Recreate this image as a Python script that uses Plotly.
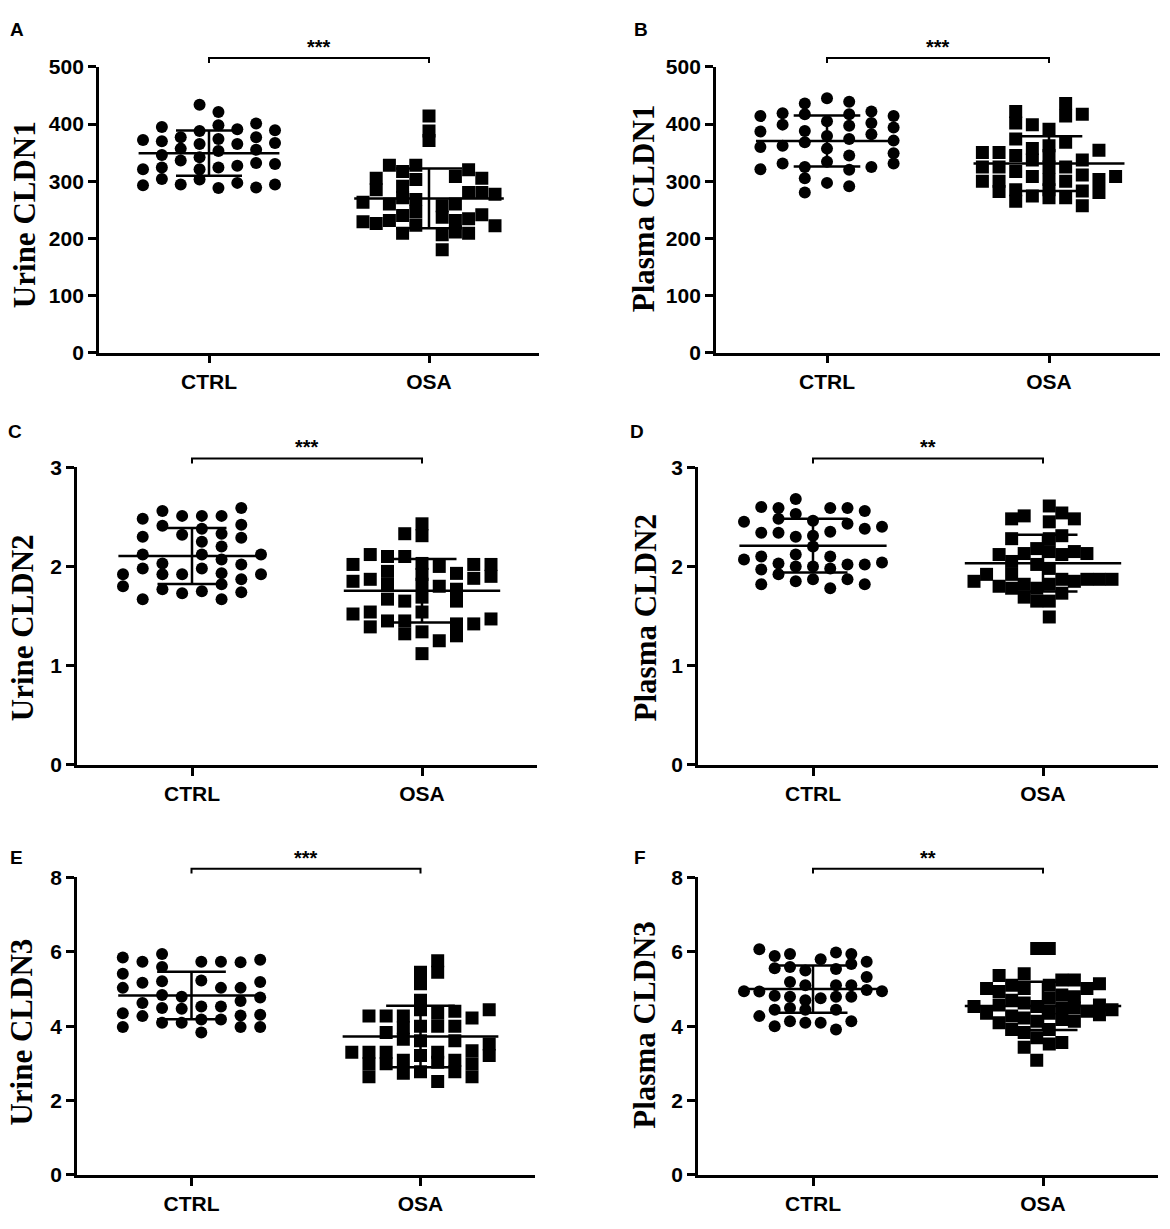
import numpy as np
import plotly.graph_objects as go
from plotly.subplots import make_subplots

W, H = 1170, 1229

groups = ['CTRL', 'OSA']

# values, one inner list per stacked column (left to right)
urine_cldn1_ctrl = [[372, 321, 293], [395, 370, 346, 324, 304], [377, 357, 336, 294],
                    [434, 388, 365, 342, 321, 303], [421, 398, 374, 353, 324, 288],
                    [391, 365, 327, 297], [401, 377, 355, 332, 289], [389, 367, 330, 294]]
urine_cldn1_osa = [[263, 229], [305, 285, 226], [328, 260, 231], [317, 291, 271, 240, 209],
                   [328, 303, 268, 246, 223], [414, 388, 371], [257, 237, 206, 180],
                   [308, 260, 231, 211], [320, 280, 234, 209], [305, 280, 241], [277, 222]]

plasma_cldn1_ctrl = [[414, 387, 360, 321], [419, 399, 362, 331], [436, 417, 388, 368, 325, 305, 280],
                     [445, 405, 379, 357, 334, 297], [439, 417, 397, 374, 345, 320, 291],
                     [422, 402, 382, 325], [414, 394, 371, 349, 331]]
plasma_cldn1_osa = [[350, 325, 300], [350, 325, 300, 282], [422, 402, 374, 345, 317, 285, 265],
                    [399, 357, 337, 308, 274], [391, 362, 345, 325, 303, 285, 271],
                    [436, 414, 368, 325, 300, 271], [417, 337, 311, 283, 257], [354, 303, 280], [308]]

urine_cldn2_ctrl = [[1.92, 1.80], [2.48, 2.30, 2.12, 1.98, 1.67], [2.56, 2.41, 2.03, 1.92, 1.77],
                    [2.51, 2.32, 1.92, 1.73], [2.51, 2.38, 2.25, 2.12, 1.98, 1.75],
                    [2.51, 2.33, 2.20, 2.07, 1.93, 1.82, 1.67], [2.59, 2.42, 2.29, 2.02, 1.87, 1.74],
                    [2.12, 1.92]]
urine_cldn2_osa = [[2.02, 1.85, 1.52], [2.12, 1.87, 1.54, 1.39], [2.10, 1.95, 1.82, 1.67, 1.45],
                   [2.33, 2.10, 1.65, 1.45, 1.32], [2.43, 2.31, 2.03, 1.92, 1.82, 1.69, 1.54, 1.34, 1.12],
                   [2.00, 1.80, 1.25], [1.93, 1.77, 1.65, 1.42, 1.30], [2.02, 1.88, 1.42],
                   [2.02, 1.90, 1.47]]

plasma_cldn2_ctrl = [[2.45, 2.07], [2.60, 2.34, 2.10, 1.97, 1.82], [2.59, 2.48, 2.34, 2.03, 1.92],
                     [2.68, 2.53, 2.30, 2.12, 2.00, 1.85], [2.46, 2.31, 2.20, 2.00, 1.87],
                     [2.59, 2.35, 2.10, 1.98, 1.78], [2.59, 2.43, 2.02, 1.87], [2.56, 2.38, 2.02, 1.82],
                     [2.40, 2.04]]
plasma_cldn2_osa = [[1.85], [1.92], [2.12, 1.80], [2.48, 2.28, 2.05, 1.92, 1.78], [2.51, 2.13, 1.82, 1.69],
                    [2.18, 2.02, 1.78, 1.65], [2.61, 2.45, 2.28, 2.15, 1.98, 1.82, 1.65, 1.49],
                    [2.54, 2.31, 2.12, 1.87, 1.73], [2.48, 2.15, 1.85], [2.13, 1.87], [1.87], [1.87]]

urine_cldn3_ctrl = [[5.85, 5.41, 5.03, 4.35, 3.98], [5.73, 5.17, 4.62, 4.27],
                    [5.94, 5.59, 5.21, 4.84, 4.49, 4.09], [4.79, 4.47, 4.09], [5.73, 5.23, 4.53, 4.18, 3.83],
                    [5.73, 5.03, 4.53, 4.18], [5.72, 5.03, 4.68, 4.29, 3.98], [5.79, 5.19, 4.77, 4.31, 3.98]]
urine_cldn3_osa = [[3.30], [4.27, 3.30, 2.99, 2.64], [4.27, 3.83, 3.30, 2.99], [4.27, 3.96, 3.65, 3.08, 2.73],
                   [5.45, 5.14, 4.70, 4.44, 4.00, 3.61, 3.21, 2.77], [5.76, 5.45, 4.35, 4.00, 3.30, 3.03, 2.51],
                   [4.40, 4.00, 3.61, 3.08, 2.77], [4.22, 3.34, 2.99, 2.64], [4.44, 3.52, 3.21]]

plasma_cldn3_ctrl = [[4.94], [6.07, 4.93, 4.27], [5.89, 5.56, 4.82, 4.44, 4.00],
                     [5.94, 5.59, 5.19, 4.79, 4.49, 4.13], [5.50, 5.10, 4.70, 4.44, 4.09], [5.80, 4.75, 4.09],
                     [5.98, 5.54, 5.10, 4.79, 4.44, 3.91], [5.94, 5.67, 5.10, 4.79, 4.13], [5.73, 5.32, 4.97],
                     [4.94]]
plasma_cldn3_osa = [[4.53], [5.01, 4.35], [5.36, 4.93, 4.57, 4.09], [5.10, 4.70, 4.27, 3.91],
                    [5.41, 5.01, 4.62, 4.22, 3.83, 3.43], [6.09, 4.53, 4.13, 3.69, 3.08],
                    [6.09, 5.10, 4.75, 4.35, 3.91, 3.52], [5.24, 4.84, 4.49, 4.18, 3.56], [5.24, 4.79, 4.49, 4.13],
                    [5.01, 4.40], [5.14, 4.57, 4.31], [4.44]]

y_titles = ['Urine CLDN1', 'Plasma CLDN1', 'Urine CLDN2', 'Plasma CLDN2', 'Urine CLDN3', 'Plasma CLDN3']
letters = ['A', 'B', 'C', 'D', 'E', 'F']
stars = ['***', '***', '***', '**', '***', '**']
y_max = [500, 500, 3, 3, 8, 8]
y_step = [100, 100, 1, 1, 2, 2]
ctrl_data = [urine_cldn1_ctrl, plasma_cldn1_ctrl, urine_cldn2_ctrl, plasma_cldn2_ctrl,
             urine_cldn3_ctrl, plasma_cldn3_ctrl]
osa_data = [urine_cldn1_osa, plasma_cldn1_osa, urine_cldn2_osa, plasma_cldn2_osa,
            urine_cldn3_osa, plasma_cldn3_osa]

# pixel boxes of each panel: (left, right, top, bottom) of the axes
boxes = [(99, 539, 56, 347), (716, 1160, 56, 347),
         (77, 537, 464, 767), (698, 1158, 464, 767),
         (77, 535, 882, 1185), (698, 1158, 882, 1185)]
letter_pos = [(8, 18), (632, 18), (6, 428), (628, 428), (8, 862), (632, 862)]
title_pos = [(24, 207), (643, 200), (22, 628), (645, 617), (22, 1040), (645, 1032)]


def spread(columns, center, width=0.6):
    xs, ys = [], []
    n = len(columns)
    for i, col in enumerate(columns):
        off = (i / (n - 1) - 0.5) * width if n > 1 else 0
        xs += [center + off] * len(col)
        ys += col
    return xs, ys


def mean_sd_lines(values, center, half=0.32):
    v = np.array(values)
    m, sd = v.mean(), v.std(ddof=1)
    x = [center - half, center + half, None, center - 0.15, center + 0.15, None,
         center - 0.15, center + 0.15, None, center, center]
    y = [m, m, None, m + sd, m + sd, None, m - sd, m - sd, None, m - sd, m + sd]
    return x, y


fig = make_subplots(rows=3, cols=2)
tick_font = dict(family='Liberation Sans, Arial', size=21, color='black', weight='bold')

for k in range(6):
    row, col = k // 2 + 1, k % 2 + 1
    for g, (cols, sym, size) in enumerate([(ctrl_data[k], 'circle', 12), (osa_data[k], 'square', 13)]):
        c = g + 1
        xs, ys = spread(cols, c)
        fig.add_trace(go.Scatter(x=xs, y=ys, mode='markers',
                                 marker=dict(symbol=sym, size=size, color='black', line=dict(width=0)),
                                 showlegend=False), row=row, col=col)
        lx, ly = mean_sd_lines(ys, c, 0.32 if g == 0 else 0.34)
        fig.add_trace(go.Scatter(x=lx, y=ly, mode='lines', line=dict(color='black', width=2.5),
                                 showlegend=False), row=row, col=col)

    left, right, top, bottom = boxes[k]
    sfx = '' if k == 0 else str(k + 1)
    fig.layout['xaxis' + sfx].update(
        domain=[left / W, right / W], range=[0.5, 2.5], tickvals=[1, 2], ticktext=groups,
        showline=True, linewidth=2.8, linecolor='black', ticks='outside', ticklen=8,
        tickwidth=2.8, tickcolor='black', showgrid=False, zeroline=False, tickfont=tick_font)
    fig.layout['yaxis' + sfx].update(
        domain=[1 - bottom / H, 1 - top / H], range=[0, y_max[k]], dtick=y_step[k], tick0=0,
        showline=True, linewidth=2.8, linecolor='black', ticks='outside', ticklen=8,
        tickwidth=2.8, tickcolor='black', showgrid=False, zeroline=False, tickfont=tick_font)

    # significance bracket
    yb = 1 - (top - 9) / H
    yt = 1 - (top - 4) / H
    fig.add_shape(type='path', xref='x' + sfx, yref='paper',
                  path=f'M 1,{yt} L 1,{yb} L 2,{yb} L 2,{yt}',
                  line=dict(color='black', width=2))
    fig.add_annotation(x=1.5, y=yb, xref='x' + sfx, yref='paper', text=stars[k], showarrow=False,
                       yanchor='bottom', yshift=-2,
                       font=dict(family='Liberation Sans, Arial', size=20, color='black', weight='bold'))

    lx, ly = letter_pos[k]
    fig.add_annotation(x=lx / W, y=1 - ly / H, xref='paper', yref='paper', text=letters[k],
                       showarrow=False, xanchor='left', yanchor='middle',
                       font=dict(family='Liberation Sans, Arial', size=19, color='black', weight='bold'))
    tx, ty = title_pos[k]
    fig.add_annotation(x=tx / W, y=1 - ty / H, xref='paper', yref='paper', text=y_titles[k],
                       showarrow=False, textangle=-90, xanchor='center', yanchor='middle',
                       font=dict(family='Liberation Serif, Times New Roman', size=31, color='black',
                                 weight='bold'))

fig.update_layout(width=W, height=H, margin=dict(l=0, r=0, t=0, b=0),
                  plot_bgcolor='white', paper_bgcolor='white', showlegend=False)

# drop the browser's default page margin so the figure sits at the window origin
fig.write_html("out.html", config={'displayModeBar': False},
               post_script="document.body.style.margin='0px';")
